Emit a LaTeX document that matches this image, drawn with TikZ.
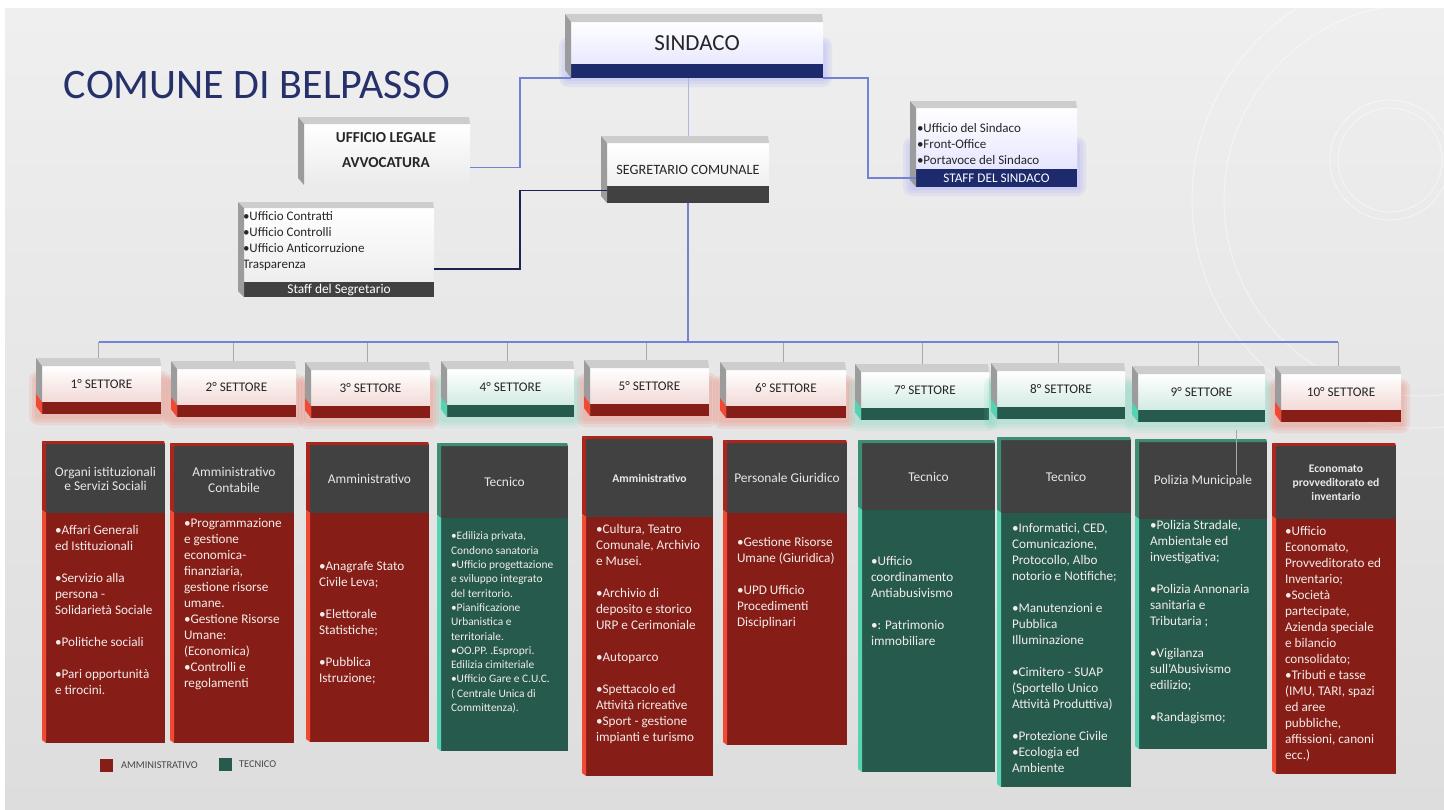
\documentclass[tikz,border=0pt]{standalone}
\usepackage{fontspec}
\setmainfont{Carlito}
\usetikzlibrary{positioning}
\usetikzlibrary{calc}

\definecolor{slidetop}{HTML}{EFEFEF}
\definecolor{slidebot}{HTML}{DDDDDD}
\definecolor{titleblue}{HTML}{26306B}
\definecolor{navybar}{HTML}{1D2A6C}
\definecolor{linkblue}{HTML}{7282D4}
\definecolor{paleblue}{HTML}{AEB8DC}
\definecolor{darklink}{HTML}{1B2350}
\definecolor{dropgrey}{HTML}{A8A8A8}
\definecolor{bevtop}{HTML}{CDCDCD}
\definecolor{bevside}{HTML}{9C9C9C}
\definecolor{headgrey}{HTML}{414141}
\definecolor{headtext}{HTML}{E8E8E8}
\definecolor{ammbar}{HTML}{861D17}
\definecolor{ammtop}{HTML}{A8261D}
\definecolor{ammside}{HTML}{F04A32}
\definecolor{ammface}{HTML}{F2DAD7}
\definecolor{tecbar}{HTML}{255A4C}
\definecolor{tectop}{HTML}{3C8C76}
\definecolor{tecside}{HTML}{55D3B2}
\definecolor{tecface}{HTML}{D3EBE3}
\definecolor{bodywhite}{HTML}{F3ECEA}
\definecolor{inktext}{HTML}{262626}

\newcommand{\pxu}{0.5pt}
% top and left faces of the 3d boxes
\newcommand{\topbevel}[4]{\fill[fill=#2] (#1.north west) -- ++(-#3,-#4) -- ($(#1.north east)+(-1,-#4)$) -- (#1.north east) -- cycle;}
\newcommand{\sidebevel}[5]{\fill[fill=#3] (#1.north west) -- ++(-#4,-#5) -- ($(#2.south west)+(-#4,-#5)$) -- (#2.south west) -- cycle;}
% soft halo behind a box
\newcommand{\glow}[5]{\foreach \g in {3,6,9}{\fill[fill=#5, opacity=0.1, rounded corners=\g*\pxu] (#1-\g,#2-\g) rectangle (#3+\g,#4+\g);}}

\begin{document}
\begin{tikzpicture}[x=0.5pt, y=-0.5pt,
    every node/.style={inner sep=0pt, outer sep=0pt},
    face/.style={anchor=north west, shade, top color=white, bottom color=#1, text=inktext},
    secface/.style={face=#1, minimum height=36*\pxu, font=\fontsize{6.6}{8}\selectfont},
    secbar/.style={fill=#1, minimum height=12*\pxu},
    headbox/.style={anchor=north west, fill=headgrey, text=headtext, align=center},
    bodytext/.style={anchor=north west, align=left, text=bodywhite, font=\fontsize{6.6}{8}\selectfont},
    stafftext/.style={anchor=north west, align=left, text=inktext, font=\fontsize{6.5}{8}\selectfont},
    link/.style={draw=linkblue, line width=0.7pt},
    thinlink/.style={draw=paleblue, line width=0.5pt},
    darkline/.style={draw=darklink, line width=0.7pt},
    dropline/.style={draw=dropgrey, line width=0.45pt},
    legsq/.style={minimum size=13*\pxu},
    legtext/.style={text=inktext!85, font=\fontsize{5.2}{6}\selectfont}]

  \useasboundingbox (0,0) rectangle (1444,809);
  % slide background
  \fill[white] (0,0) rectangle (1444,809);
  \shade[top color=slidetop, bottom color=slidebot] (5,8) rectangle (1444,809);
  \begin{scope}[draw=white, opacity=0.45, line width=0.5pt]
    \draw (1420,200) circle[radius=228];
    \draw (1420,200) circle[radius=196];
    \draw (1390,160) circle[radius=52];
    \draw (1390,160) circle[radius=60];
  \end{scope}

  \node[text=titleblue, font=\fontsize{21}{24}\selectfont] (title) at (257,85) {COMUNE DI BELPASSO};

  % sindaco
  \glow{568}{46}{823}{78}{blue!50}
  \node[face=blue!9, minimum width=252*\pxu, minimum height=42*\pxu, font=\fontsize{11.5}{13}\selectfont] (sind) at (571,22) {SINDACO};
  \node[fill=navybar, minimum width=252*\pxu, minimum height=14*\pxu, below=0pt of sind] (sindbar) {};
  \topbevel{sind}{bevtop}{6}{8}
  \sidebevel{sind}{sindbar}{bevside}{6}{8}

  % ufficio legale
  \node[face=black!8, minimum width=166*\pxu, minimum height=61*\pxu] (legale) at (304,124) {};
  \node[align=center, text=inktext, font=\bfseries\fontsize{7.6}{12.5}\selectfont] (legaletext) at (386,150) {UFFICIO LEGALE\\AVVOCATURA};
  \topbevel{legale}{bevtop}{6}{7}
  \sidebevel{legale}{legale}{bevside}{6}{7}

  % segretario
  \node[face=black!6, minimum width=162*\pxu, minimum height=43*\pxu] (segr) at (607,143) {};
  \node[fill=headgrey, minimum width=162*\pxu, minimum height=17*\pxu, below=0pt of segr] (segrbar) {};
  \node[text=inktext, font=\fontsize{7.1}{8}\selectfont] (segrtext) at (688,170) {SEGRETARIO COMUNALE};
  \topbevel{segr}{bevtop}{6}{7}
  \sidebevel{segr}{segrbar}{bevside}{6}{7}

  % staff del segretario
  \node[face=black!7, minimum width=190*\pxu, minimum height=74*\pxu] (staffsegr) at (244,208) {};
  \node[fill=headgrey, minimum width=190*\pxu, minimum height=15*\pxu, below=0pt of staffsegr, text=white, font=\fontsize{6.7}{8}\selectfont] (staffsegrbar) {Staff del Segretario};
  \node[stafftext] (staffsegrtext) at (243,212) {•Ufficio Contratti\\•Ufficio Controlli\\•Ufficio Anticorruzione\\Trasparenza};
  \topbevel{staffsegr}{bevtop}{6}{6}
  \sidebevel{staffsegr}{staffsegrbar}{bevside}{6}{6}

  % staff del sindaco
  \glow{912}{146}{1077}{187}{blue!50}
  \node[face=blue!10, minimum width=161*\pxu, minimum height=61*\pxu] (staffsind) at (916,108) {};
  \node[fill=navybar, minimum width=161*\pxu, minimum height=18*\pxu, below=0pt of staffsind, text=white, font=\fontsize{6.6}{8}\selectfont] (staffsindbar) {STAFF DEL SINDACO};
  \node[stafftext] (staffsindtext) at (917,123) {•Ufficio del Sindaco\\•Front-Office\\•Portavoce del Sindaco};
  \topbevel{staffsind}{bevtop}{6}{7}
  \sidebevel{staffsind}{staffsindbar}{bevside}{6}{7}

  % links at the top
  \draw[link] (sindbar.south west) -- ++(-51,0) |- ([yshift=-6.5pt]legale.east);
  \draw[link] (sindbar.south east) -- ++(45,0) |- (staffsindbar.west);
  \draw[thinlink] (segr.north |- sindbar.south) -- ([yshift=3.5pt]segr.north);
  \draw[darkline] ([yshift=2pt]segrbar.west) -- ++(-87,0) |- ([yshift=-12pt]staffsegr.east);

  % settori
  \coordinate (bus) at (0,342);
  \foreach \n/\x/\y/\w/\kind in {1/42/366/119/amm, 2/177/369/119/amm, 3/311/370/119/amm,
      4/447/369/127/tec, 5/590/368/119/amm, 6/726/370/120/amm, 7/861/372/128/tec,
      8/997/371/128/tec, 9/1138/374/127/tec, 10/1281/374/120/amm}
  {
    \glow{\x-4}{\y+14}{\x+\w}{\y+50}{\kind side}
    \node[secface=\kind face, minimum width=\w*\pxu] (s\n) at (\x,\y) {\n° SETTORE};
    \node[secbar=\kind bar, minimum width=\w*\pxu, below=0pt of s\n] (sb\n) {};
    \topbevel{s\n}{bevtop}{6}{8}
    \sidebevel{s\n}{sb\n}{bevside}{6}{8}
    \sidebevel{sb\n}{sb\n}{\kind side}{6}{8}
    \coordinate (st\n) at ($(s\n.north)+(-3,-8)$);
    \draw[dropline] (st\n) -- (st\n |- bus);
  }
  \draw[link] (segrbar.south) -- (segrbar.south |- bus);
  \draw[link] (st1 |- bus) -- (st10 |- bus);

  % columns under the settori
  \foreach \n/\x/\y/\w/\hh/\bh/\kind/\hf/\head in {
      1/46/444/119/69/230/amm/{\fontsize{6.7}{7}\selectfont}/{Organi istituzionali\\e Servizi Sociali},
      2/174/446/120/67/230/amm/{\fontsize{6.7}{8}\selectfont}/{Amministrativo\\Contabile},
      3/310/445/119/68/229/amm/{\fontsize{6.7}{8}\selectfont}/{Amministrativo},
      4/441/446/127/72/233/tec/{\fontsize{6.7}{8}\selectfont}/{Tecnico},
      5/586/439/127/78/259/amm/{\bfseries\fontsize{5.8}{7}\selectfont}/{Amministrativo},
      6/727/443/120/70/232/amm/{\fontsize{6.7}{8}\selectfont}/{Personale Giuridico},
      7/862/443/133/67/262/tec/{\fontsize{6.7}{8}\selectfont}/{Tecnico},
      8/1001/440/130/73/274/tec/{\fontsize{6.7}{8}\selectfont}/{Tecnico},
      9/1139/442/128/77/230/tec/{\fontsize{6.7}{8}\selectfont}/{Polizia Municipale},
      10/1276/446/120/73/255/amm/{\bfseries\fontsize{5.8}{7}\selectfont}/{Economato\\provveditorato ed\\inventario}}
  {
    \node[headbox, font=\hf, minimum width=\w*\pxu, minimum height=\hh*\pxu] (h\n) at (\x,\y) {\head};
    \node[fill=\kind bar, minimum width=\w*\pxu, minimum height=\bh*\pxu, below=0pt of h\n] (b\n) {};
    \topbevel{h\n}{\kind top}{4}{3}
    \sidebevel{h\n}{h\n}{\kind top}{4}{3}
    \sidebevel{b\n}{b\n}{\kind side}{4}{3}
  }
  \draw[dropline] ([xshift=16.5pt,yshift=6pt]h9.north) -- ([xshift=16.5pt,yshift=-16.5pt]h9.north);

  \node[bodytext] (t1) at (55,525) {•Affari Generali\\ed Istituzionali\\[8pt]•Servizio alla\\persona -\\Solidarietà Sociale\\[8pt]•Politiche sociali\\[8pt]•Pari opportunità\\e tirocini.};
  \node[bodytext] (t2) at (184,518) {•Programmazione\\e gestione\\economica-\\finanziaria,\\gestione risorse\\umane.\\•Gestione Risorse\\Umane:\\(Economica)\\•Controlli e\\regolamenti};
  \node[bodytext] (t3) at (319,561) {•Anagrafe Stato\\Civile Leva;\\[8pt]•Elettorale\\Statistiche;\\[8pt]•Pubblica\\Istruzione;};
  \node[bodytext, font=\fontsize{5.7}{7.15}\selectfont] (t4) at (451,532) {•Edilizia privata,\\Condono sanatoria\\•Ufficio progettazione\\e sviluppo integrato\\del territorio.\\•Pianificazione\\Urbanistica e\\territoriale.\\•OO.PP. .Espropri.\\Edilizia cimiteriale\\•Ufficio Gare e C.U.C.\\( Centrale Unica di\\Committenza).};
  \node[bodytext] (t5) at (596,524) {•Cultura, Teatro\\Comunale, Archivio\\e Musei.\\[8pt]•Archivio di\\deposito e storico\\URP e Cerimoniale\\[8pt]•Autoparco\\[8pt]•Spettacolo ed\\Attività ricreative\\•Sport - gestione\\impianti e turismo};
  \node[bodytext] (t6) at (737,537) {•Gestione Risorse\\Umane (Giuridica)\\[8pt]•UPD Ufficio\\Procedimenti\\Disciplinari};
  \node[bodytext] (t7) at (871,556) {•Ufficio\\coordinamento\\Antiabusivismo\\[8pt]•: Patrimonio\\immobiliare};
  \node[bodytext] (t8) at (1012,523) {•Informatici, CED,\\Comunicazione,\\Protocollo, Albo\\notorio e Notifiche;\\[8pt]•Manutenzioni e\\Pubblica\\Illuminazione\\[8pt]•Cimitero - SUAP\\(Sportello Unico\\Attività Produttiva)\\[8pt]•Protezione Civile\\•Ecologia ed\\Ambiente};
  \node[bodytext] (t9) at (1150,520) {•Polizia Stradale,\\Ambientale ed\\investigativa;\\[8pt]•Polizia Annonaria\\sanitaria e\\Tributaria ;\\[8pt]•Vigilanza\\sull’Abusivismo\\edilizio;\\[8pt]•Randagismo;};
  \node[bodytext] (t10) at (1285,526) {•Ufficio\\Economato,\\Provveditorato ed\\Inventario;\\•Società\\partecipate,\\Azienda speciale\\e bilancio\\consolidato;\\•Tributi e tasse\\(IMU, TARI, spazi\\ed aree\\pubbliche,\\affissioni, canoni\\ecc.)};

  % legend
  \node[legsq, fill=ammbar] (legamm) at (106.5,765.5) {};
  \node[legtext, right=4pt of legamm] (legammtext) {AMMINISTRATIVO};
  \node[legsq, fill=tecbar] (legtec) at (225.5,764) {};
  \node[legtext, right=3.5pt of legtec] (legtectext) {TECNICO};
\end{tikzpicture}
\end{document}
